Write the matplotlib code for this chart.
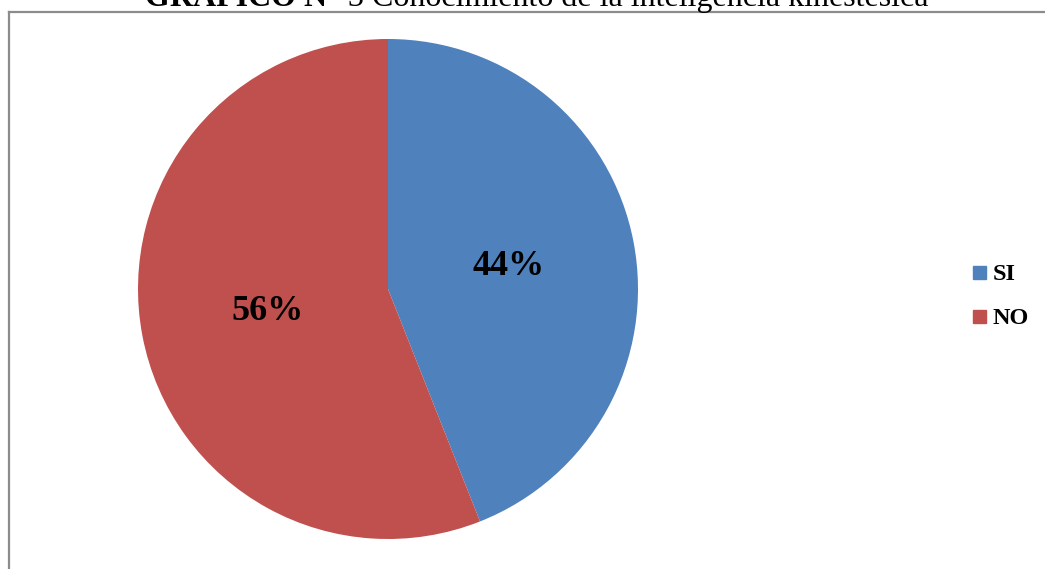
import matplotlib

matplotlib.use("Agg")
import matplotlib.pyplot as plt  # noqa: E402
from matplotlib.lines import Line2D  # noqa: E402
from matplotlib.patches import Rectangle  # noqa: E402

categories = ["SI", "NO"]
values = [44, 56]
colors = ["#4F81BD", "#C0504D"]
title_bold = "GRAFICO N°"
title_rest = " 3 Conocimiento de la inteligencia kinestésica"

W, H = 1045, 569
SERIF = ["Liberation Serif", "DejaVu Serif"]

fig = plt.figure(figsize=(W / 100, H / 100), dpi=100)


def fx(px):
    return px / W


def fy(py):
    return 1 - py / H


# frame (only top and left edges visible in the crop)
fig.add_artist(Line2D([fx(8.5), fx(8.5)], [fy(H), fy(12)], color="#8c8c8c", lw=1.6, transform=fig.transFigure))
fig.add_artist(Line2D([fx(8.5), fx(W)], [fy(12), fy(12)], color="#8c8c8c", lw=1.6, transform=fig.transFigure))

# pie, centre (388, 289), radius 250 px
ax = fig.add_axes([fx(138), fy(539), 500 / W, 500 / H])
wedges, _, autotexts = ax.pie(
    values,
    colors=colors,
    startangle=90,
    counterclock=False,
    autopct=lambda p: f"{p:.0f}%",
    pctdistance=0.49,
    wedgeprops={"linewidth": 0},
    textprops={"fontsize": 26, "fontweight": "bold", "family": SERIF},
)
ax.set_xlim(-1, 1)
ax.set_ylim(-1, 1)
ax.set_aspect("auto")
ax.axis("off")

# legend
for i, (cat, col) in enumerate(zip(categories, colors)):
    yc = 272 + i * 44
    fig.add_artist(Rectangle((fx(973), fy(yc + 6.5)), 13 / W, 13 / H, color=col, transform=fig.transFigure))
    fig.text(fx(993), fy(yc), cat, fontsize=17.5, fontweight="bold", family=SERIF, ha="left", va="center_baseline")

# title, clipped by the top edge as in the source
t1 = fig.text(fx(145), fy(6), title_bold, fontsize=23, fontweight="bold", family=SERIF, ha="left", va="baseline")
fig.canvas.draw()
bb = t1.get_window_extent()
fig.text(bb.x1 / W, fy(6), title_rest, fontsize=23, family=SERIF, ha="left", va="baseline")

fig.savefig("out.png", dpi=100)
